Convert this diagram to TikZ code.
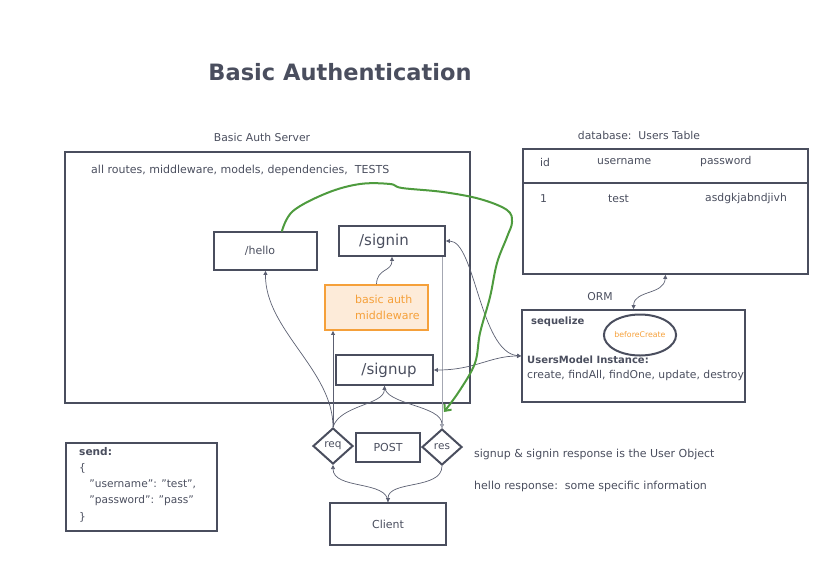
\documentclass[tikz,border=0pt]{standalone}
\usepackage{fontspec}
\setmainfont{DejaVu Sans}
\usetikzlibrary{shapes.geometric,arrows.meta}
\definecolor{ink}{HTML}{4A4E5E}
\definecolor{wire}{HTML}{5C6072}
\definecolor{pale}{HTML}{A4A7B2}
\definecolor{authorange}{HTML}{F5A03A}
\definecolor{authfill}{HTML}{FDEBD9}
\definecolor{scribble}{HTML}{4E9B3E}
\begin{document}
\begin{tikzpicture}[x=1pt,y=-1pt,
  box/.style={draw=ink,line width=1.8pt,text=ink,inner sep=0pt},
  txt/.style={text=ink,inner sep=0pt,font=\fontsize{10.8}{13}\selectfont},
  conn/.style={draw=wire,line width=0.7pt,-{Triangle[length=4pt,width=4pt]}},
  dconn/.style={draw=wire,line width=0.7pt,{Triangle[length=4pt,width=4pt]}-{Triangle[length=4pt,width=4pt]}},
  gate/.style={diamond,draw=ink,line width=2pt,text=ink,inner sep=0pt,minimum width=40pt,minimum height=36pt,font=\fontsize{10.5}{12}\selectfont}]
\useasboundingbox (0,0) rectangle (840,576);
\node[text=ink,font=\fontsize{22.5}{27}\bfseries] (title) at (340,72) {Basic Authentication};
\node[txt] (serverlabel) at (262,137) {Basic Auth Server};
\node[box,minimum width=405pt,minimum height=251pt] (server) at (267.5,277.5) {};
\node[txt,anchor=west,font=\fontsize{11}{13}\selectfont] (servertext) at (91,170) {all routes, middleware, models, dependencies,\ \ TESTS};
\node[box,minimum width=103pt,minimum height=38pt,font=\fontsize{11}{14}\selectfont] (hello) at (265.5,251) {\hspace*{-11pt}/hello};
\node[box,minimum width=106pt,minimum height=30pt,font=\fontsize{15}{18}\selectfont] (signin) at (392,241) {\hspace*{-16pt}/signin};
\node[draw=authorange,fill=authfill,line width=1.8pt,minimum width=103pt,minimum height=45pt] (mw) at (376.5,307.5) {};
\node[anchor=west,text=authorange,align=left,inner sep=0pt,font=\fontsize{11}{16}\selectfont] (mwtext) at (355,307.5) {basic auth\\middleware};
\node[box,minimum width=97pt,minimum height=30pt,font=\fontsize{15}{18}\selectfont] (signup) at (384.5,370) {\hspace*{9pt}/signup};
\node[gate] (req) at (333,446) {req};
\node[box,minimum width=64pt,minimum height=29pt,font=\fontsize{11}{13}\selectfont] (post) at (388,447.5) {POST};
\node[gate] (res) at (442,447) {res};
\node[box,minimum width=116pt,minimum height=42pt,font=\fontsize{11}{13}\selectfont] (client) at (388,524) {Client};
\node[box,minimum width=151pt,minimum height=88pt] (send) at (141.5,487) {};
\node[txt,anchor=north west,align=left,font=\fontsize{10.6}{16.2}\selectfont] (sendtext) at (79,447) {\textbf{send:}\\\{\\\ \ \ "username": "test",\\\ \ \ "password": "pass"\\\}};
\node[txt] (dblabel) at (639,135) {database:\ \ Users Table};
\node[box,minimum width=285pt,minimum height=125pt] (users) at (665.5,211.5) {};
\draw[draw=ink,line width=2.4pt] (523,183) -- (808,183);
\node[txt,anchor=west] (colid) at (540,162) {id};
\node[txt,anchor=west] (colname) at (597,162) {username};
\node[txt,anchor=west] (colpass) at (700,162) {password};
\node[txt,anchor=west] (rowid) at (540,199) {1};
\node[txt,anchor=west] (rowname) at (608,199) {test};
\node[txt,anchor=west] (rowpass) at (705,199) {asdgkjabndjivh};
\node[txt] (orm) at (600,297) {ORM};
\node[box,minimum width=223pt,minimum height=92pt] (seq) at (633.5,356) {};
\node[txt,anchor=west,font=\fontsize{10}{12}\bfseries] (seqname) at (531,322) {sequelize};
\node[ellipse,draw=ink,line width=2pt,minimum width=65pt,minimum height=41pt,inner sep=0pt,text=authorange,font=\fontsize{7.8}{9}\selectfont] (hook) at (640,335) {beforeCreate};
\node[txt,anchor=west,font=\fontsize{10}{12}\bfseries] (instance) at (527,360) {UsersModel Instance:};
\node[txt,anchor=west,font=\fontsize{10.8}{13}\selectfont] (methods) at (527,376) {create, findAll, findOne, update, destroy};
\node[txt,anchor=west,font=\fontsize{11}{13}\selectfont] (note1) at (474,454) {signup \& signin response is the User Object};
\node[txt,anchor=west,font=\fontsize{11}{13}\selectfont] (note2) at (474,486) {hello response:\ \ some specific information};
\draw[conn] (req.north) .. controls (333,370) and (265,330) .. (hello.south);
\draw[conn] (req.north) -- (req.north |- mw.south);
\draw[conn] (req.north) .. controls (340,405) and (384,405) .. (signup.south);
\draw[conn] (signup.south) .. controls (384,405) and (442,405) .. (res.north);
\draw[conn] (mw.north) .. controls (377,268) and (392,272) .. (signin.south);
\draw[conn,draw=pale] (signin.south -| res.north) -- (res.north);
\draw[dconn] (signin.east) .. controls (475,241) and (480,352) .. (seq.west);
\draw[dconn] (signup.east) .. controls (475,370) and (490,356) .. (seq.west);
\draw[dconn] (users.south) .. controls (664,295) and (634,290) .. (seq.north);
\draw[conn] (client.north) .. controls (388,480) and (333,490) .. (req.south);
\draw[conn] (res.south) .. controls (442,490) and (388,480) .. (client.north);
\coordinate (gstart) at (282,231);
\coordinate (gend) at (444,412);
\draw[draw=scribble,line width=2pt,line cap=round,-{Straight Barb[length=5pt,width=9pt]}] plot[smooth,tension=0.6] coordinates {(gstart) (293,211) (327,193) (360,184) (390,184) (402,188) (443,192) (480,199) (507,210) (512,222) (507,237) (497,263) (490,297) (480,333) (475,363) (460,390) (gend)};
\end{tikzpicture}
\end{document}
